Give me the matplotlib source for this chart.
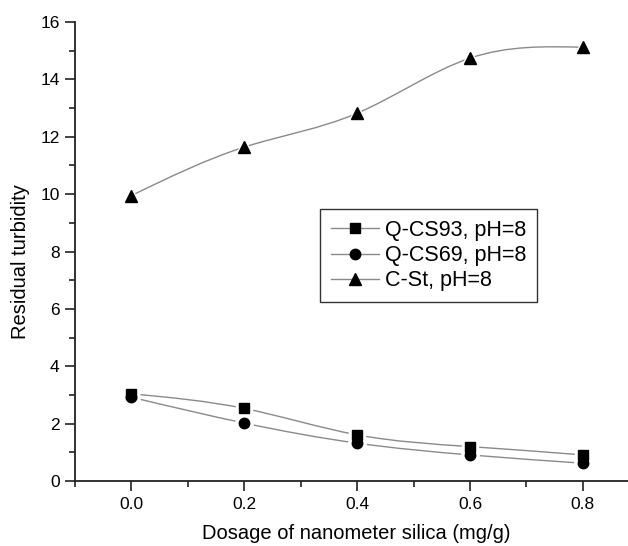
import numpy as np
import matplotlib
matplotlib.use('Agg')
import matplotlib.pyplot as plt
from matplotlib.path import Path
from matplotlib.patches import PathPatch
from matplotlib.lines import Line2D
from matplotlib.ticker import MultipleLocator

plt.rcParams['font.family'] = ['Liberation Sans', 'DejaVu Sans']

# dosage of nanometer silica (mg/g)
dosage = [0.0, 0.2, 0.4, 0.6, 0.8]
# residual turbidity for each flocculant
qcs93 = [3.04, 2.53, 1.61, 1.20, 0.91]
qcs69 = [2.92, 2.02, 1.32, 0.91, 0.62]
cst = [9.95, 11.64, 12.82, 14.74, 15.12]

labels = ['Q-CS93, pH=8', 'Q-CS69, pH=8', 'C-St, pH=8']
markers = ['s', 'o', '^']
msizes = [7, 7.5, 8.5]
line_col = '#8a8a8a'


def spline_path(x, y):
    # natural cubic spline through the points, written as bezier segments
    x = np.asarray(x, float)
    y = np.asarray(y, float)
    n = len(x)
    h = np.diff(x)
    A = np.zeros((n, n))
    r = np.zeros(n)
    A[0, 0] = A[-1, -1] = 1
    for i in range(1, n - 1):
        A[i, i - 1] = h[i - 1]
        A[i, i] = 2 * (h[i - 1] + h[i])
        A[i, i + 1] = h[i]
        r[i] = 6 * ((y[i + 1] - y[i]) / h[i] - (y[i] - y[i - 1]) / h[i - 1])
    M = np.linalg.solve(A, r)
    m = np.zeros(n)
    for i in range(n - 1):
        m[i] = (y[i + 1] - y[i]) / h[i] - h[i] * (2 * M[i] + M[i + 1]) / 6
    m[-1] = (y[-1] - y[-2]) / h[-1] + h[-1] * (M[-2] + 2 * M[-1]) / 6
    verts = [(x[0], y[0])]
    codes = [Path.MOVETO]
    for i in range(n - 1):
        verts += [(x[i] + h[i] / 3, y[i] + h[i] * m[i] / 3),
                  (x[i + 1] - h[i] / 3, y[i + 1] - h[i] * m[i + 1] / 3),
                  (x[i + 1], y[i + 1])]
        codes += [Path.CURVE4] * 3
    return Path(verts, codes)


fig = plt.figure(figsize=(6.28, 5.46), dpi=100)
ax = fig.add_axes([0.1194, 0.119, 0.8806, 0.8407])

handles = []
for ys, mk, ms, lab in zip([qcs93, qcs69, cst], markers, msizes, labels):
    ax.add_patch(PathPatch(spline_path(dosage, ys), facecolor='none',
                           edgecolor=line_col, lw=1.0, zorder=2))
    # white halo leaves a small gap between curve and marker
    ax.plot(dosage, ys, ls='none', marker=mk, ms=ms + 5, color='white',
            zorder=3)
    ax.plot(dosage, ys, ls='none', marker=mk, ms=ms, color='black',
            zorder=4)
    handles.append(Line2D([], [], color=line_col, lw=1.0, marker=mk, ms=ms,
                          mfc='black', mec='black'))

ax.set_xlim(-0.1, 0.88)
ax.set_ylim(0, 16)
ax.spines['top'].set_visible(False)
ax.spines['right'].set_visible(False)
for s in ['left', 'bottom']:
    ax.spines[s].set_linewidth(1.3)
    ax.spines[s].set_color('#222222')

ax.xaxis.set_major_locator(MultipleLocator(0.2))
ax.xaxis.set_minor_locator(MultipleLocator(0.1))
ax.yaxis.set_major_locator(MultipleLocator(2))
ax.yaxis.set_minor_locator(MultipleLocator(1))
ax.set_xticks([0.0, 0.2, 0.4, 0.6, 0.8])
ax.set_xticklabels(['0.0', '0.2', '0.4', '0.6', '0.8'])
ax.tick_params(which='major', length=7, width=1.2, labelsize=12.5,
               color='#222222')
ax.tick_params(which='minor', length=4, width=1.2, color='#222222')
ax.tick_params(axis='x', which='major', pad=4.5)
ax.tick_params(axis='y', which='major', pad=4)

ax.set_xlabel('Dosage of nanometer silica (mg/g)', fontsize=14.5)
ax.set_ylabel('Residual turbidity', fontsize=14.5)
ax.xaxis.set_label_coords(0.508, -0.094)
ax.yaxis.set_label_coords(-0.081, 0.479)

fig.legend(handles, labels, loc='upper left',
           bbox_to_anchor=(320 / 628, 1 - 209 / 546), borderaxespad=0,
           fontsize=15.5, frameon=True, fancybox=False, edgecolor='#333333',
           framealpha=1, handlelength=2.25, handletextpad=0.25,
           labelspacing=0.2, borderpad=0.5)

fig.savefig('out.png', dpi=100)
